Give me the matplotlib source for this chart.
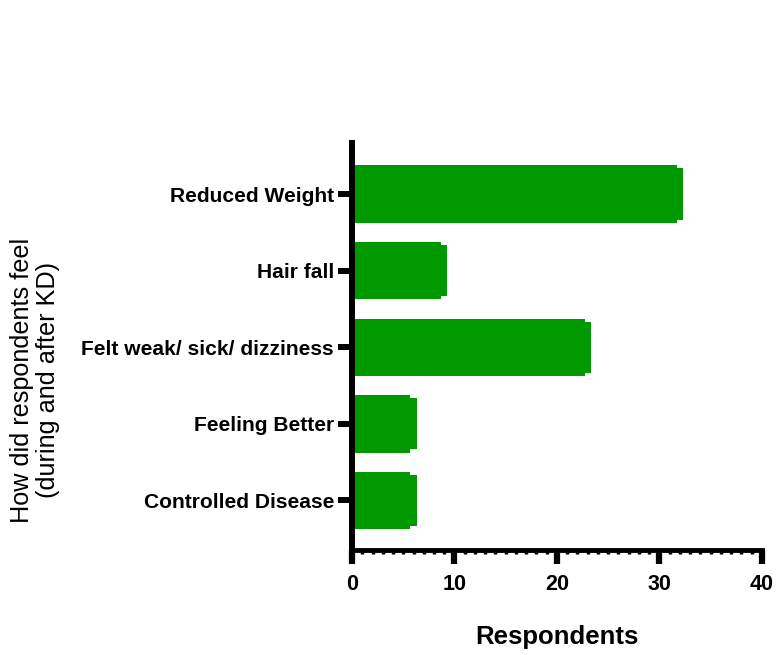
import numpy as np
import matplotlib.pyplot as plt
from matplotlib.ticker import MultipleLocator

# responses, bottom to top
categories = ["Controlled Disease", "Feeling Better", "Felt weak/ sick/ dizziness",
              "Hair fall", "Reduced Weight"]
respondents = [6, 6, 23, 9, 32]

plt.rcParams['font.family'] = ['Liberation Sans', 'DejaVu Sans']

fig = plt.figure(figsize=(7.83, 6.55), dpi=100)
ax = fig.add_axes([0.4496, 0.160, 0.5234, 0.622])

y = np.arange(len(categories))
green = '#009a00'
# bevelled bar look: main block plus a slightly shorter end strip
ax.barh(y, np.array(respondents) - 0.3, height=0.75, color=green, linewidth=0)
ax.barh(y, np.array(respondents) + 0.3, height=0.67, color=green, linewidth=0)

ax.set_xlim(0, 40)
ax.set_ylim(-0.65, 4.67)
ax.set_yticks(y)
ax.set_yticklabels(categories, fontsize=15.1, fontweight='bold')
ax.xaxis.set_major_locator(MultipleLocator(10))
ax.xaxis.set_minor_locator(MultipleLocator(1))
for lab in ax.get_xticklabels():
    lab.set_fontweight('bold')
ax.tick_params(axis='x', which='major', length=10, width=4.5, labelsize=15.5, pad=7)
ax.tick_params(axis='x', which='minor', length=3, width=2.5)
ax.tick_params(axis='y', which='major', length=10, width=4.3, pad=3)

for s in ['top', 'right']:
    ax.spines[s].set_visible(False)
ax.spines['left'].set_linewidth(4.3)
ax.spines['bottom'].set_linewidth(3.5)

ax.set_xlabel("Respondents", fontsize=18.5, fontweight='bold', labelpad=22)
fig.text(0.045, 0.42, "How did respondents feel\n(during and after KD)",
         rotation=90, ha='center', va='center', fontsize=18.2, linespacing=1.1)

fig.savefig("out.png", dpi=100)
